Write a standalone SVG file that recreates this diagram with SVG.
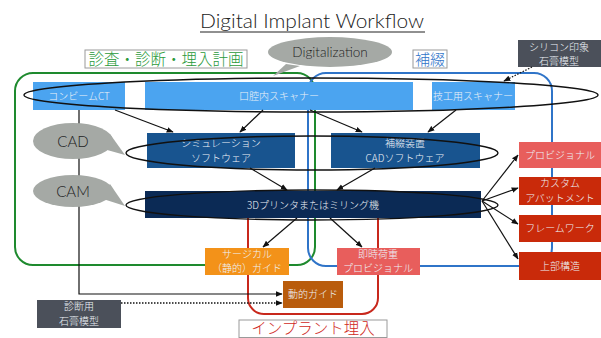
<svg xmlns="http://www.w3.org/2000/svg" width="601" height="338" viewBox="0 0 601 338">
  <defs>
    <marker id="arr" viewBox="0 0 10 10" refX="9" refY="5" markerWidth="7" markerHeight="7" orient="auto" markerUnits="userSpaceOnUse">
      <path d="M0,1 L10,5 L0,9 z" fill="#111"/>
    </marker>
    <style>
      .jp { font-family: "Noto Sans CJK JP", "Noto Sans", sans-serif; font-weight: 300; }
      .lat { font-family: Lato, "Noto Sans", sans-serif; font-weight: 300; }
      .bt { font-family: "Noto Sans CJK JP", sans-serif; font-weight: 300; font-size: 10px; fill: #eef2f7; text-anchor: middle; }
      .frame { fill: none; stroke-width: 2; }
      .loop { fill: none; stroke: #111; stroke-width: 1.4; }
      .edge { fill: none; stroke: #111; stroke-width: 1.2; marker-end: url(#arr); }
      .bubble { fill: #a5a9a5; }
      .lbl { fill: #fff; stroke: #9a9a9a; stroke-width: 1; }
    </style>
  </defs>

  <rect width="601" height="338" fill="#fff"/>

  <!-- title -->
  <text class="lat" x="312" y="28" font-size="20" fill="#222" text-anchor="middle" textLength="224" lengthAdjust="spacingAndGlyphs">Digital Implant Workflow</text>
  <line x1="200" y1="32" x2="425" y2="32" stroke="#222" stroke-width="1.2"/>

  <!-- phase frames -->
  <g id="frames">
    <rect class="frame" x="15" y="73" width="300" height="192" rx="18" stroke="#1e8a2e"/>
    <rect class="frame" x="308" y="73" width="244" height="193" rx="18" stroke="#2f74c8"/>
    <rect class="frame" x="248" y="196" width="130" height="118" rx="16" stroke="#c8281c"/>
  </g>

  <!-- phase labels -->
  <g id="label-plan">
    <rect class="lbl" x="85" y="50" width="162" height="18"/>
    <text class="jp" x="166" y="65" font-size="15.5" fill="#2a9a3a" text-anchor="middle">診査・診断・埋入計画</text>
  </g>
  <g id="label-prosth">
    <rect class="lbl" x="413" y="50" width="34" height="18"/>
    <text class="jp" x="430" y="65" font-size="15" fill="#2f74c8" text-anchor="middle">補綴</text>
  </g>
  <g id="label-implant">
    <rect class="lbl" x="239" y="320" width="148" height="17.5"/>
    <text class="jp" x="313" y="334" font-size="15.5" fill="#d0281c" text-anchor="middle">インプラント埋入</text>
  </g>

  <!-- vertical guide line and dotted model input -->
  <g id="side-lines">
    <path d="M79,110 V294 H282" fill="none" stroke="#111" stroke-width="1.2" marker-end="url(#arr)"/>
    <line x1="121" y1="303" x2="282" y2="303" stroke="#111" stroke-width="1.3" stroke-dasharray="1.5 1.5" marker-end="url(#arr)"/>
  </g>

  <!-- speech bubbles -->
  <g id="bubble-digitalization">
    <path class="bubble" d="M286,64 L273,76 L300,66 z"/>
    <ellipse class="bubble" cx="330" cy="52" rx="62" ry="15"/>
    <text class="lat" x="330" y="57" font-size="13.5" fill="#222" text-anchor="middle">Digitalization</text>
  </g>
  <g id="bubble-cad">
    <path class="bubble" d="M100,148 L125,155 L110,134 z"/>
    <ellipse class="bubble" cx="73" cy="141" rx="40" ry="18"/>
    <text class="lat" x="73" y="147" font-size="15" fill="#222" text-anchor="middle">CAD</text>
  </g>
  <g id="bubble-cam">
    <path class="bubble" d="M100,198 L125,206 L110,184 z"/>
    <ellipse class="bubble" cx="73" cy="191" rx="40" ry="16"/>
    <text class="lat" x="73" y="197" font-size="15" fill="#222" text-anchor="middle">CAM</text>
  </g>

  <!-- input nodes -->
  <g id="node-cbct">
    <rect x="33" y="82" width="92" height="28" fill="#4ba4f0"/>
    <text class="bt" x="79" y="100">コンビームCT</text>
  </g>
  <g id="node-ios">
    <rect x="145" y="82" width="268" height="28" fill="#4ba4f0"/>
    <text class="bt" x="279" y="100">口腔内スキャナー</text>
  </g>
  <g id="node-lab-scanner">
    <rect x="432" y="82" width="83" height="28" fill="#4ba4f0"/>
    <text class="bt" x="473" y="100">技工用スキャナー</text>
  </g>
  <g id="node-silicone">
    <rect x="518" y="40" width="83" height="27" fill="#4b505a"/>
    <text class="bt" x="559" y="51">シリコン印象</text>
    <text class="bt" x="559" y="65">石膏模型</text>
  </g>

  <!-- software nodes -->
  <g id="node-sim">
    <rect x="147" y="133" width="148" height="35" fill="#18548f"/>
    <text class="bt" x="221" y="147">シミュレーション</text>
    <text class="bt" x="221" y="162">ソフトウェア</text>
  </g>
  <g id="node-cad">
    <rect x="331" y="133" width="149" height="35" fill="#18548f"/>
    <text class="bt" x="405" y="147">補綴装置</text>
    <text class="bt" x="405" y="162">CADソフトウェア</text>
  </g>
  <g id="node-printer">
    <rect x="145" y="191" width="336" height="27" fill="#0b2a55"/>
    <text class="bt" x="313" y="209">3Dプリンタまたはミリング機</text>
  </g>

  <!-- outputs -->
  <g id="node-surgical-guide">
    <rect x="205" y="248" width="84" height="27" fill="#f39219"/>
    <text class="bt" x="247" y="258">サージカル</text>
    <text class="bt" x="247" y="272">（静的）ガイド</text>
  </g>
  <g id="node-immediate">
    <rect x="337" y="248" width="83" height="27" fill="#e85e5c"/>
    <text class="bt" x="378" y="258">即時荷重</text>
    <text class="bt" x="378" y="272">プロビジョナル</text>
  </g>
  <g id="node-dynamic-guide">
    <rect x="283" y="281" width="60" height="27" fill="#b95c0c"/>
    <text class="bt" x="313" y="298">動的ガイド</text>
  </g>
  <g id="node-diag-model">
    <rect x="37" y="300" width="84" height="28" fill="#4b505a"/>
    <text class="bt" x="79" y="310">診断用</text>
    <text class="bt" x="79" y="325">石膏模型</text>
  </g>
  <g id="node-provisional">
    <rect x="519" y="142" width="82" height="26" fill="#e85e5c"/>
    <text class="bt" x="560" y="159">プロビジョナル</text>
  </g>
  <g id="node-abutment">
    <rect x="519" y="177" width="82" height="28" fill="#c92a0a"/>
    <text class="bt" x="560" y="187">カスタム</text>
    <text class="bt" x="560" y="202">アバットメント</text>
  </g>
  <g id="node-framework">
    <rect x="519" y="215" width="82" height="27" fill="#c92a0a"/>
    <text class="bt" x="560" y="232">フレームワーク</text>
  </g>
  <g id="node-superstructure">
    <rect x="519" y="252" width="82" height="28" fill="#c92a0a"/>
    <text class="bt" x="560" y="270">上部構造</text>
  </g>

  <!-- grouping loops -->
  <g id="loops">
    <ellipse class="loop" cx="311" cy="95" rx="287" ry="17"/>
    <ellipse class="loop" cx="312" cy="153" rx="186" ry="17"/>
    <ellipse class="loop" cx="312" cy="205" rx="186" ry="15"/>
  </g>

  <!-- connectors -->
  <g id="connectors">
    <line class="edge" x1="115" y1="110" x2="173" y2="132"/>
    <line class="edge" x1="263" y1="110" x2="240" y2="132"/>
    <line class="edge" x1="310" y1="110" x2="362" y2="132"/>
    <line class="edge" x1="456" y1="110" x2="428" y2="132"/>
    <line class="edge" x1="250" y1="168" x2="287" y2="190"/>
    <line class="edge" x1="375" y1="168" x2="337" y2="190"/>
    <line class="edge" x1="297" y1="218" x2="263" y2="247"/>
    <line class="edge" x1="330" y1="218" x2="362" y2="247"/>
    <line class="edge" x1="482" y1="201" x2="518" y2="155"/>
    <line class="edge" x1="482" y1="201" x2="518" y2="188"/>
    <line class="edge" x1="482" y1="201" x2="518" y2="224"/>
    <line class="edge" x1="482" y1="201" x2="518" y2="259"/>
    <line x1="532" y1="67" x2="504" y2="81" stroke="#111" stroke-width="1.2" stroke-dasharray="1.5 1.5" marker-end="url(#arr)"/>
  </g>
</svg>
